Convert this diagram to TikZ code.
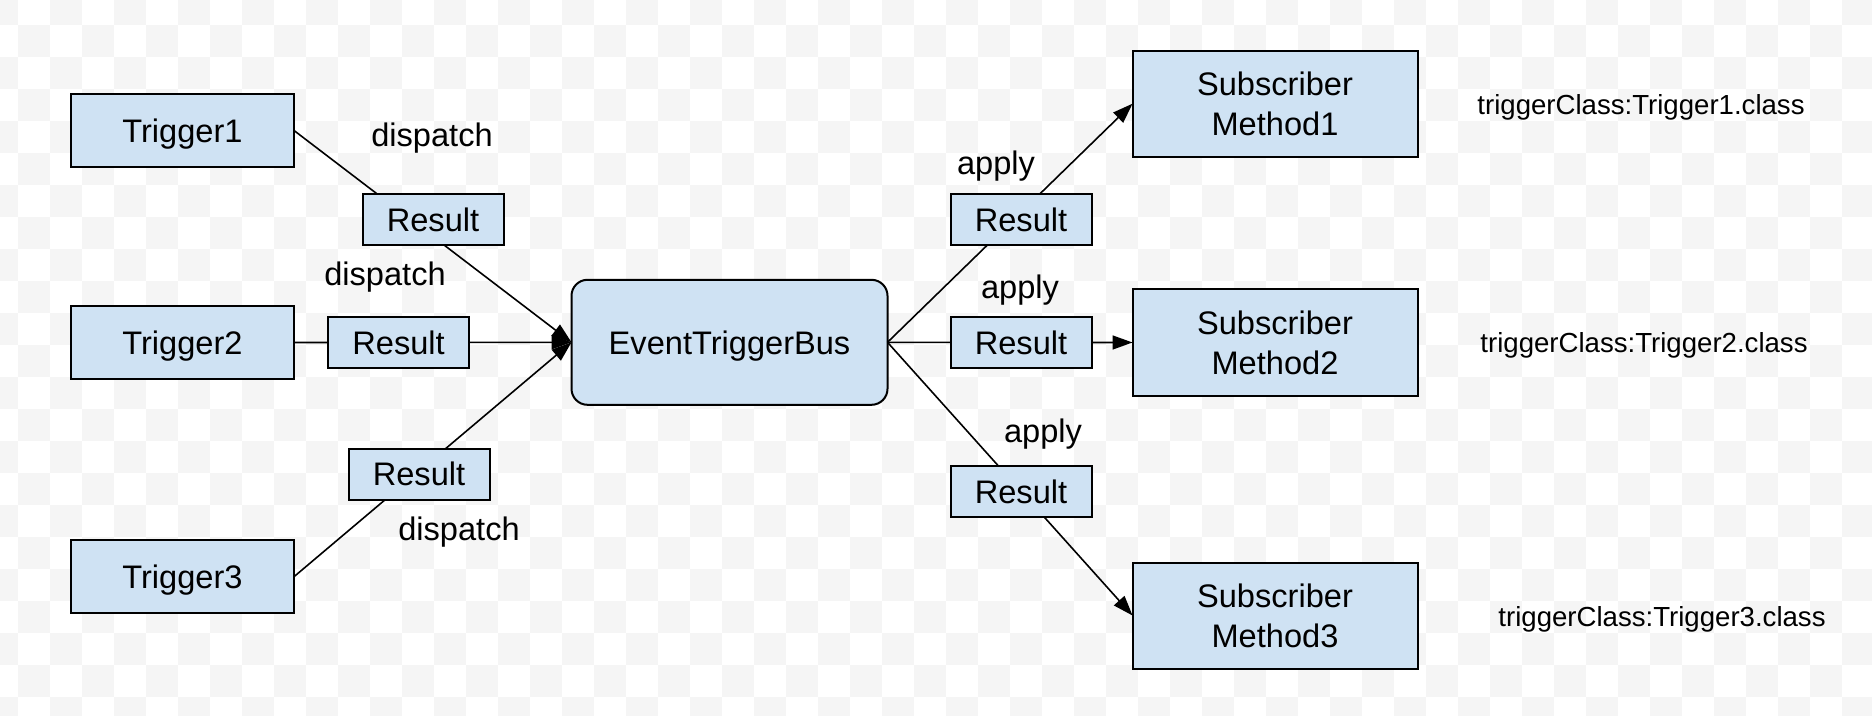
\documentclass[tikz,border=0pt]{standalone}
\usepackage{fontspec}
\setmainfont{Liberation Sans}
\usepackage{tikz}
\usetikzlibrary{%
  arrows.meta
}
\definecolor{boxblue}{HTML}{CFE2F3}
\definecolor{chkgrey}{HTML}{F5F5F5}
\tikzstyle{bus}=[x=0.5pt,y=-0.5pt,font=\fontsize{16.3}{20}\selectfont,line width=0.8pt]
\tikzstyle{bx}=[rectangle,draw=black,fill=boxblue,line width=1pt,inner sep=0pt,outer sep=0pt,align=center,text depth=0pt]
\tikzstyle{trg}=[bx,minimum width=111.5pt,minimum height=36.5pt]
\tikzstyle{res}=[bx,minimum width=70.5pt,minimum height=25.5pt]
\tikzstyle{sub}=[bx,minimum width=142.5pt,minimum height=53pt]
\tikzstyle{hub}=[bx,rounded corners=8pt,minimum width=158pt,minimum height=62.5pt]
\tikzstyle{lbl}=[rectangle,draw=none,fill=none,inner sep=0pt]
\tikzstyle{cls}=[lbl,font=\fontsize{13.8}{16}\selectfont]
\tikzstyle{arr}=[-{Triangle[length=10pt,width=7pt]}]

\begin{document}
\begin{tikzpicture}[bus]
  \useasboundingbox (0,0) rectangle (1872,716);
  % checker background
  \begin{scope}
    \clip (0,0) rectangle (1872,716);
    \foreach \j in {0,...,22}{
      \foreach \i in {0,2,...,58}{
        \pgfmathsetmacro\xa{18+32*(\i+mod(\j,2)-1)}
        \pgfmathsetmacro\ya{25+32*(\j-1)}
        \fill[chkgrey] (\xa,\ya) rectangle ++(32,32);
      }
    }
  \end{scope}
  \node[trg] (t_1) at (182.5,130.5) {Trigger1};
  \node[trg] (t_2) at (182.5,342.5) {Trigger2};
  \node[trg] (t_3) at (182.5,576.7) {Trigger3};
  \node[hub] (bus) at (729.5,342.3) {EventTriggerBus};
  \node[sub] (m_1) at (1275,103.7) {Subscriber\\Method1};
  \node[sub] (m_2) at (1275,342.5) {Subscriber\\Method2};
  \node[sub] (m_3) at (1275,615.5) {Subscriber\\Method3};
  \path[arr]
    (t_1.east) edge (bus.west)
    (t_2.east) edge (bus.west)
    (t_3.east) edge (bus.west)
    (bus.east) edge (m_1.west)
               edge (m_2.west)
               edge (m_3.west);
  % results sit on top of the lines
  \node[res] (r_1) at (433,219.7) {Result};
  \node[res] (r_2) at (398.6,342.5) {Result};
  \node[res] (r_3) at (419,474) {Result};
  \node[res] (q_1) at (1021,219.7) {Result};
  \node[res] (q_2) at (1021,342.5) {Result};
  \node[res] (q_3) at (1021,491.7) {Result};
  \node[lbl] (d_1) at (432,138) {dispatch};
  \node[lbl] (d_2) at (385,277) {dispatch};
  \node[lbl] (d_3) at (459,532) {dispatch};
  \node[lbl] (a_1) at (996,166) {apply};
  \node[lbl] (a_2) at (1020,290) {apply};
  \node[lbl] (a_3) at (1043,434) {apply};
  \node[cls] (c_1) at (1641,107) {triggerClass:Trigger1.class};
  \node[cls] (c_2) at (1644,345) {triggerClass:Trigger2.class};
  \node[cls] (c_3) at (1662,619) {triggerClass:Trigger3.class};
\end{tikzpicture}
\end{document}
